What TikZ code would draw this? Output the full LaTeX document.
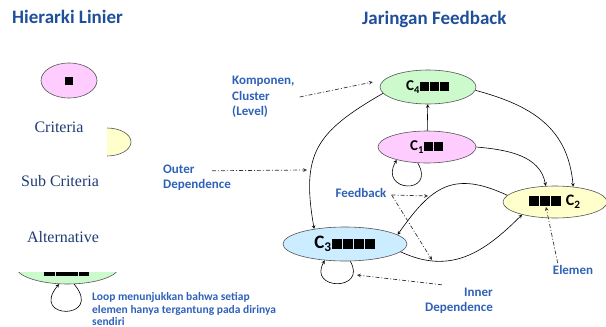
\documentclass[tikz,border=0pt]{standalone}
\usepackage{fontspec}
\setmainfont{Carlito}
\newfontfamily\tnr{Liberation Serif}
\usetikzlibrary{shapes.geometric}
\definecolor{headblue}{HTML}{1F4F9A}
\definecolor{lblblue}{HTML}{2E62B8}
\definecolor{navy}{HTML}{1F3B73}
\definecolor{pinkfill}{HTML}{FFCCFF}
\definecolor{greenfill}{HTML}{CCFACC}
\definecolor{yellowfill}{HTML}{FFFFCC}
\definecolor{bluefill}{HTML}{CCECFF}
\definecolor{rim}{HTML}{555555}
\newcommand{\sq}[1]{\rule{#1pt}{#1pt}\kern1pt}
\tikzstyle{cluster} = [ellipse, draw=rim, line width=0.6pt, inner sep=0pt, font=\bfseries]
\tikzstyle{heading} = [font=\fontsize{19}{22}\selectfont\bfseries, text=headblue, inner sep=0pt]
\tikzstyle{lbl} = [font=\fontsize{13}{15.5}\selectfont\bfseries, text=lblblue, align=left, inner sep=0pt]
\tikzstyle{tier} = [font=\tnr\fontsize{16}{19}\selectfont, text=navy, inner sep=0pt]
\tikzstyle{arrow} = [->, >=stealth, line width=0.6pt]
\tikzstyle{note} = [->, >=stealth, line width=0.7pt, draw=black!80, dash pattern=on 4pt off 2pt on 1pt off 2pt]

\begin{document}
\begin{tikzpicture}[x=1pt, y=1pt]
  \useasboundingbox (0,0) rectangle (606,-327);
  % titles
  \node (hl)[heading, anchor=base west] at (12,-23.5) {Hierarki Linier};
  \node (jf)[heading, anchor=base west] at (362,-24) {Jaringan Feedback};

  % left: linear hierarchy
  \node (goal)[cluster, fill=pinkfill, minimum width=56pt, minimum height=35pt] at (69,-80.5) {\sq8};
  \node (crit)[tier] at (59,-127) {Criteria};
  \begin{scope}
    \clip (107,-115) rectangle (140,-170);
    \node (subc)[cluster, fill=yellowfill, minimum width=48pt, minimum height=28pt] at (107,-142) {};
  \end{scope}
  \node (scrit)[tier] at (60,-181) {Sub Criteria};
  \node (alter)[tier] at (63,-237) {Alternative};
  \begin{scope}
    \clip (10,-272) rectangle (130,-300);
    \node (alt)[cluster, fill=greenfill, minimum width=104pt, minimum height=36pt] at (67.5,-266)
      {\raisebox{-10pt}[0pt][0pt]{\sq{10.5}\sq{10.5}\sq{10.5}\sq{10.5}}};
  \end{scope}
  \draw [arrow](alt.-70) to[out=-50, in=-130, looseness=8] (alt.-115);
  \node (loop)[lbl, font=\fontsize{11.5}{12.5}\selectfont\bfseries, anchor=west] at (92,-309)
    {Loop menunjukkan bahwa setiap\\elemen hanya tergantung pada dirinya\\sendiri};

  % right: feedback network
  \node (c4)[cluster, fill=greenfill, minimum width=96pt, minimum height=34pt, font=\fontsize{15}{18}\selectfont\bfseries] at (428,-87) {C\textsubscript{4}\sq9\sq9\sq9};
  \node (c1)[cluster, fill=pinkfill, minimum width=98pt, minimum height=32pt, font=\fontsize{15}{18}\selectfont\bfseries] at (427,-147) {C\textsubscript{1}\sq9\sq9};
  \node (c2)[cluster, fill=yellowfill, minimum width=104pt, minimum height=32pt, font=\fontsize{16}{19}\selectfont\bfseries] at (555,-202) {\sq{10}\sq{10}\sq{10}\ C\textsubscript{2}};
  \node (c3)[cluster, fill=bluefill, minimum width=124pt, minimum height=34pt, font=\fontsize{19}{22}\selectfont\bfseries] at (345,-244) {C\textsubscript{3}\sq{10}\sq{10}\sq{10}\sq{10}};

  \draw [arrow](c1)--(c4);
  \draw [arrow](c4.188) to[out=210, in=100, looseness=1.3] (c3.154);
  \draw [arrow](c4.-4) to[out=-15, in=95, looseness=1.1] (c2.40);
  \draw [arrow](c1.east) to[out=-5, in=100] (c2.120);
  \draw [arrow](c2.172) to[out=155, in=55, looseness=1.3] (c3.10);
  \draw [arrow](c3.-8) to[out=-25, in=-135, looseness=1.1] (c2.201);
  \draw [arrow](c1.240) to[out=-60, in=-120, looseness=4.5] (c1.203);
  \draw [arrow](c3.-73) to[out=-60, in=-120, looseness=3.5] (c3.219);

  % annotations
  \node (kom)[lbl, anchor=west] at (232,-97) {Komponen,\\Cluster\\(Level)};
  \node (outer)[lbl, anchor=west] at (163,-178) {Outer\\Dependence};
  \node (fb)[lbl] at (361,-193) {Feedback};
  \node (elem)[lbl] at (573,-270) {Elemen};
  \node (inner)[lbl, align=right, anchor=east] at (493,-301) {Inner\\Dependence};

  \coordinate (outtip) at (307,-170);
  \coordinate (fbtip1) at (428,-196);
  \coordinate (fbtip2) at (432,-260);
  \coordinate (eltip) at (546,-207);
  \coordinate (intip) at (357,-275);

  \draw [note]([xshift=5pt]kom.east) -- ([xshift=-7pt, yshift=5pt]c4.west);
  \draw [note]([shift={(49pt,-6pt)}]outer.north west) -- (outtip);
  \draw [note]([shift={(5pt,-2pt)}]fb.east) -- (fbtip1);
  \draw [note]([shift={(5pt,-2pt)}]fb.east) -- (fbtip2);
  \draw [note]([shift={(5pt,2pt)}]elem.north west) -- (eltip);
  \draw [note]([shift={(17pt,3pt)}]inner.north west) -- (intip);
\end{tikzpicture}
\end{document}
